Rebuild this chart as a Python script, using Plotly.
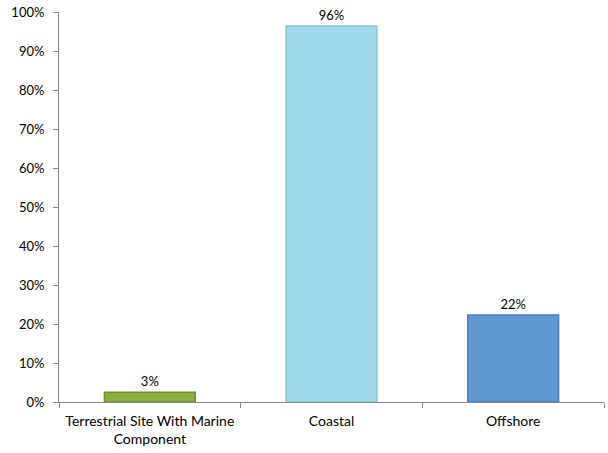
import plotly.graph_objects as go

categories = ["Terrestrial Site With Marine<br>Component", "Coastal", "Offshore"]
values = [0.025, 0.964, 0.223]
labels = ["3%", "96%", "22%"]
colors = ["#8CB040", "#A0DAEA", "#6198D4"]
edges = ["#6F8E2C", "#84C3D6", "#4A7FBF"]

fig = go.Figure(go.Bar(
    x=categories, y=values, text=labels, textposition="outside",
    marker=dict(color=colors, line=dict(color=edges, width=1.5)),
    width=0.5, cliponaxis=False,
    textfont=dict(family="Lato, Open Sans, sans-serif", size=13, color="#000000"),
))
fig.update_layout(
    width=608, height=453, margin=dict(l=59, r=4, t=12, b=51),
    paper_bgcolor="white", plot_bgcolor="white", showlegend=False,
    font=dict(family="Lato, Open Sans, sans-serif", size=13, color="#000000"),
)
fig.update_yaxes(range=[0, 1], dtick=0.1, tickformat=".0%", showgrid=False,
                 showline=True, linecolor="#868686", linewidth=1,
                 ticks="outside", ticklen=5, tickcolor="#868686", zeroline=False,
                 ticklabelstandoff=6, tickfont=dict(size=13))
fig.update_xaxes(showline=True, linecolor="#868686", linewidth=1,
                 ticks="outside", ticklen=5, tickcolor="#868686",
                 tickson="boundaries", showgrid=False,
                 ticklabelstandoff=6, tickfont=dict(size=14))
fig.write_html("out.html")
